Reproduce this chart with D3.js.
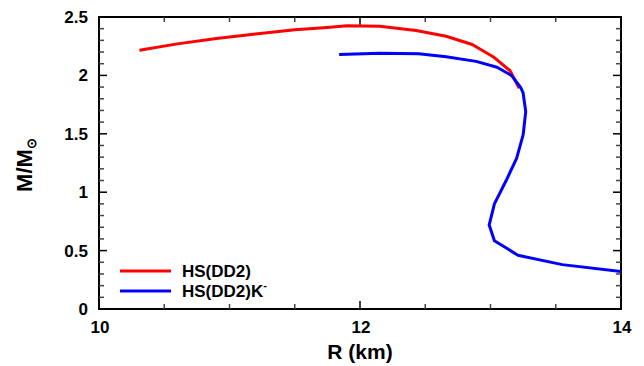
<!DOCTYPE html>
<html>
<head>
<meta charset="utf-8">
<script src="https://cdn.jsdelivr.net/npm/d3@7"></script>
<style>
  body { margin: 0; background: #fff; }
  text { font-family: "Liberation Sans", Arial, sans-serif; font-weight: bold; fill: #000; }
</style>
</head>
<body>
<svg id="chart"></svg>
<script>
// Mass-radius curves.
const redR = [10.31, 10.6, 10.9, 11.2, 11.5, 11.75, 11.9, 12.15, 12.43, 12.66, 12.86, 13.02, 13.15, 13.22];
const redM = [2.215, 2.27, 2.315, 2.355, 2.39, 2.41, 2.425, 2.42, 2.385, 2.335, 2.265, 2.16, 2.04, 1.89];

const blueR = [11.84, 12.15, 12.45, 12.66, 12.89, 13.05, 13.16, 13.23, 13.25, 13.27, 13.25, 13.2, 13.12, 13.03, 12.99, 13.03, 13.21, 13.55, 14.0];
const blueM = [2.18, 2.19, 2.185, 2.16, 2.12, 2.07, 2.0, 1.9, 1.85, 1.69, 1.49, 1.29, 1.1, 0.9, 0.72, 0.585, 0.46, 0.38, 0.32];

const seriesNames = ["HS(DD2)", "HS(DD2)K"];
const seriesColors = ["#ff0000", "#0000ff"];

const xTicks = [10, 12, 14];
const yTicks = [0, 0.5, 1, 1.5, 2, 2.5];

const width = 644;
const height = 366;
const margin = { top: 17, bottom: 57, left: 99, right: 23 };

const svg = d3.select("#chart").attr("width", width).attr("height", height);

function translate(x, y) {
  return "translate(" + x + "," + y + ")";
}

const xScale = d3.scaleLinear()
  .domain([10, 14])
  .range([margin.left, width - margin.right]);

const yScale = d3.scaleLinear()
  .domain([0, 2.5])
  .range([height - margin.bottom, margin.top]);

const pLeft = margin.left, pRight = width - margin.right;
const pBottom = height - margin.bottom, pTop = margin.top;

// Frame.
svg.append("rect")
  .attr("x", pLeft).attr("y", pTop)
  .attr("width", pRight - pLeft).attr("height", pBottom - pTop)
  .attr("fill", "none").attr("stroke", "#000").attr("stroke-width", 2);

// Tick marks on all four sides, pointing inward.
const xMinor = d3.range(0, 9).map(i => 10 + i * 0.5);
const yMinor = d3.range(0, 26).map(i => i / 10);
const tickG = svg.append("g").attr("id", "ticks");
xMinor.forEach(v => {
  const major = xTicks.includes(v);
  const len = major ? 8 : 5;
  const x = xScale(v);
  tickG.append("rect").attr("x", x - 0.75).attr("y", pBottom - len).attr("width", 1.5).attr("height", len)
    .attr("fill", major ? "#000" : "#444");
  tickG.append("rect").attr("x", x - 0.75).attr("y", pTop).attr("width", 1.5).attr("height", len)
    .attr("fill", major ? "#000" : "#444");
});
yMinor.forEach((v, i) => {
  const major = i % 5 === 0;
  const len = major ? 8 : 5;
  const y = yScale(v);
  tickG.append("rect").attr("x", pLeft).attr("y", y - 0.75).attr("width", len).attr("height", 1.5)
    .attr("fill", major ? "#000" : "#444");
  tickG.append("rect").attr("x", pRight - len).attr("y", y - 0.75).attr("width", len).attr("height", 1.5)
    .attr("fill", major ? "#000" : "#444");
});

// Tick labels.
svg.append("g").selectAll("text")
  .data(xTicks).enter().append("text")
  .attr("x", d => xScale(d) + 1)
  .attr("y", pBottom + 24)
  .attr("text-anchor", "middle")
  .style("font-size", "17px")
  .text(d => d);

svg.append("g").selectAll("text")
  .data(yTicks).enter().append("text")
  .attr("x", pLeft - 11)
  .attr("y", d => yScale(d) + 6)
  .attr("text-anchor", "end")
  .style("font-size", "17px")
  .text(d => d);

// Axis titles.
svg.append("text")
  .attr("x", (pLeft + pRight) / 2)
  .attr("y", 359)
  .attr("text-anchor", "middle")
  .style("font-size", "21px")
  .text("R (km)");

const yTitle = svg.append("g").attr("transform", translate(32, 165));
const yt = yTitle.append("text")
  .attr("transform", "rotate(-90)")
  .attr("text-anchor", "middle")
  .style("font-size", "22px");
yt.append("tspan").text("M/M");
yt.append("tspan").attr("dy", 4).style("font-size", "13px").text("\u2299");

// Curves.
const line = d3.line().x(d => xScale(d[0])).y(d => yScale(d[1]));
const curves = [d3.zip(redR, redM), d3.zip(blueR, blueM)];

svg.append("defs").append("clipPath").attr("id", "clip")
  .append("rect").attr("x", pLeft).attr("y", pTop).attr("width", pRight - pLeft).attr("height", pBottom - pTop);

svg.append("g").attr("clip-path", "url(#clip)")
  .selectAll("path")
  .data(curves).enter().append("path")
  .attr("d", line)
  .attr("fill", "none")
  .attr("stroke", (d, i) => seriesColors[i])
  .attr("stroke-width", 3)
  .attr("stroke-linejoin", "round");

// Legend.
const legend = svg.append("g").attr("transform", translate(120, 271));
seriesNames.forEach((name, i) => {
  const g = legend.append("g").attr("transform", translate(0, i * 20));
  g.append("line").attr("x1", 0).attr("x2", 51).attr("y1", 0).attr("y2", 0)
    .attr("stroke", seriesColors[i]).attr("stroke-width", 3);
  const t = g.append("text").attr("x", 62).attr("y", 6).style("font-size", "17px").text(name);
  if (i === 1) {
    t.append("tspan").attr("dy", -8).style("font-size", "11px").text("-");
  }
});
</script>
</body>
</html>
